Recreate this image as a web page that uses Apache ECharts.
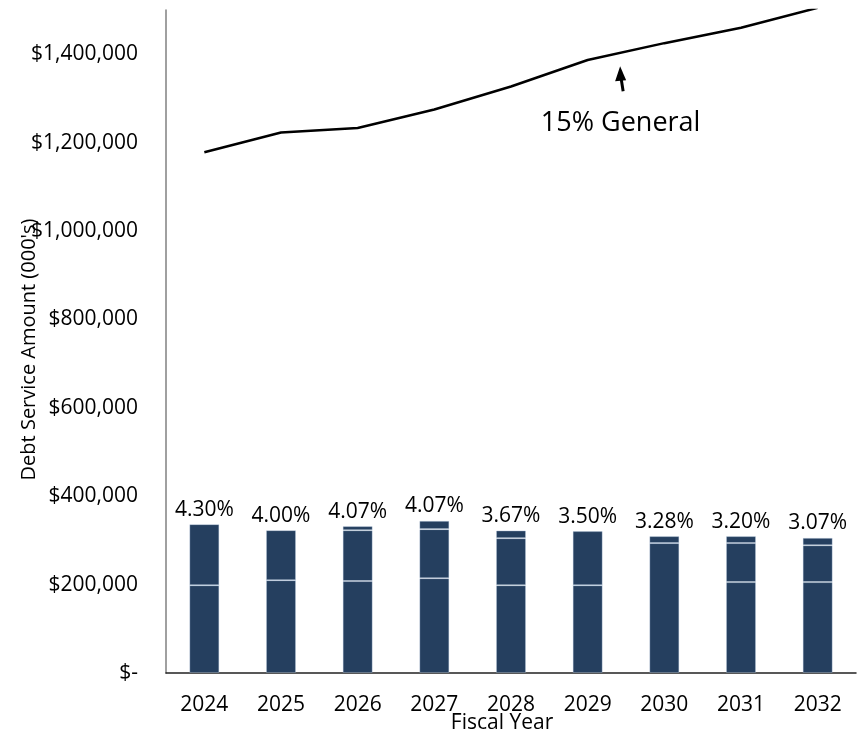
<!DOCTYPE html>
<html>
<head>
<meta charset="utf-8">
<script src="https://cdn.jsdelivr.net/npm/echarts@6/dist/echarts.min.js"></script>
<style>
html,body{margin:0;padding:0;background:#fff;}
#chart{width:862px;height:735px;}
</style>
</head>
<body>
<div id="chart"></div>
<script>
const years = ['2024','2025','2026','2027','2028','2029','2030','2031','2032'];
const segBottom = [198600, 210000, 208000, 214500, 198600, 198600, 294000, 205600, 205600];
const segMiddle = [0, 0, 115000, 111000, 106400, 0, 0, 88400, 83400];
const segTop = [138200, 113200, 9300, 18800, 17500, 122400, 15700, 15700, 16800];
const rateLabels = ['4.30%','4.00%','4.07%','4.07%','3.67%','3.50%','3.28%','3.20%','3.07%'];
const generalLimit = [1178000, 1223000, 1233000, 1275000, 1327000, 1387000, 1425000, 1460000, 1505000];
const yTicks = [0, 200000, 400000, 600000, 800000, 1000000, 1200000, 1400000];
const annotationText = '15% General';

const FONT = "'Open Sans', sans-serif";
const barColor = '#253F5F';
const barBorder = 'rgba(190,205,225,0.35)';

const chart = echarts.init(document.getElementById('chart'));

function fmtY(v){
  if (v === 0) return '$-';
  return '$' + v.toLocaleString('en-US');
}

const barBase = {
  type: 'bar',
  stack: 'ds',
  barWidth: 30,
  itemStyle: { color: barColor, borderColor: barBorder, borderWidth: 1 },
  emphasis: { disabled: true },
  animation: false
};

chart.setOption({
  animation: false,
  grid: { left: 166, right: 6, top: 10, bottom: 62, containLabel: false, outerBoundsMode: 'none' },
  xAxis: {
    type: 'category',
    data: years,
    name: 'Fiscal Year',
    nameLocation: 'middle',
    nameGap: 40,
    nameMoveOverlap: false,
    nameTextStyle: { fontFamily: FONT, fontSize: 21, color: '#000', padding: [0, 18, 0, 0] },
    axisLine: { lineStyle: { color: '#222', width: 1.5 } },
    axisTick: { show: false },
    axisLabel: { fontFamily: FONT, fontSize: 21, color: '#000', margin: 22 }
  },
  yAxis: {
    type: 'value',
    min: 0,
    max: 1500000,
    interval: 200000,
    name: "Debt Service Amount (000's)",
    nameLocation: 'middle',
    nameGap: 127,
    nameMoveOverlap: false,
    nameTextStyle: { fontFamily: FONT, fontSize: 20, color: '#000', padding: [0, 16, 0, 0] },
    axisLine: { show: true, lineStyle: { color: '#808080', width: 1.5 } },
    axisTick: { show: false },
    splitLine: { show: false },
    axisLabel: {
      fontFamily: FONT, fontSize: 21, color: '#000', margin: 28,
      formatter: function(v){ return yTicks.indexOf(v) >= 0 ? fmtY(v) : ''; }
    }
  },
  series: [
    Object.assign({}, barBase, { name: 'A', data: segBottom }),
    Object.assign({}, barBase, { name: 'B', data: segMiddle }),
    Object.assign({}, barBase, {
      name: 'C', data: segTop,
      label: {
        show: true, position: 'top', distance: 4,
        fontFamily: FONT, fontSize: 21, color: '#000',
        formatter: function(p){ return rateLabels[p.dataIndex]; }
      }
    }),
    {
      type: 'line',
      name: annotationText,
      data: generalLimit,
      symbol: 'none',
      clip: true,
      lineStyle: { color: '#000', width: 2.5 },
      emphasis: { disabled: true },
      z: 5
    }
  ]
});

// annotation arrow + text, positioned from data coordinates
const xa = chart.convertToPixel({xAxisIndex: 0}, '2029');
const xb = chart.convertToPixel({xAxisIndex: 0}, '2030');
const ax = xa + 0.43 * (xb - xa);
const tipY = chart.convertToPixel({yAxisIndex: 0}, 1373000);
const tailY = chart.convertToPixel({yAxisIndex: 0}, 1316000);
const textY = chart.convertToPixel({yAxisIndex: 0}, 1244000);
const headLen = 15;
chart.setOption({
  graphic: [
    { type: 'line', shape: { x1: ax + 2.5, y1: tailY, x2: ax + 0.6, y2: tipY + headLen - 2 },
      style: { stroke: '#000', lineWidth: 3 } },
    { type: 'polygon', shape: { points: [[ax - 0.5, tipY], [ax - 5.5, tipY + headLen], [ax + 5.5, tipY + headLen - 1]] },
      style: { fill: '#000' } },
    { type: 'text', x: ax, y: textY,
      style: { text: annotationText, fontFamily: FONT, fontSize: 27, fill: '#000', align: 'center', verticalAlign: 'middle' } }
  ]
});
</script>
</body>
</html>
